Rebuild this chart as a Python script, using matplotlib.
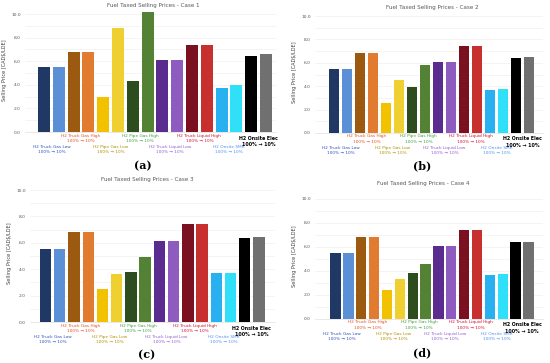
import numpy as np
import matplotlib.pyplot as plt

groups = ["H2 Truck Gas Low", "H2 Truck Gas High", "H2 Pipe Gas Low", "H2 Pipe Gas High",
          "H2 Truck Liquid Low", "H2 Truck Liquid High", "H2 Onsite SMR", "H2 Onsite Elec"]
sub_label = "100% \u2192 10%"

case1 = [5.5, 5.5, 6.8, 6.8, 3.0, 8.8, 4.3, 10.2, 6.1, 6.1, 7.4, 7.4, 3.7, 4.0, 6.4, 6.6]
case2 = [5.5, 5.5, 6.8, 6.8, 2.6, 4.5, 3.9, 5.8, 6.1, 6.1, 7.4, 7.4, 3.7, 3.8, 6.4, 6.5]
case3 = [5.5, 5.5, 6.8, 6.8, 2.5, 3.6, 3.8, 4.9, 6.1, 6.1, 7.4, 7.4, 3.7, 3.75, 6.4, 6.45]
case4 = [5.5, 5.5, 6.8, 6.8, 2.45, 3.3, 3.8, 4.6, 6.1, 6.1, 7.4, 7.4, 3.7, 3.75, 6.4, 6.45]
cases = [case1, case2, case3, case4]
titles = ["Fuel Taxed Selling Prices - Case 1", "Fuel Taxed Selling Prices - Case 2",
          "Fuel Taxed Selling Prices - Case 3", "Fuel Taxed Selling Prices - Case 4"]
letters = ["a", "b", "c", "d"]

bar_colors = ["#203864", "#5b8fd6", "#9c5a10", "#e07b30", "#f2c200", "#f0d030",
              "#2e4d1e", "#548235", "#5b2c8f", "#8e5cbf", "#7b1020", "#c83030",
              "#28b0f0", "#30e0f8", "#000000", "#707070"]
label_colors = ["#3050c0", "#e05020", "#b09000", "#40a040", "#9060d0", "#d01030", "#5090f0", "#000000"]

W, H = 550, 363
# pixel layout: axes left, axes right, first bar centre, last bar centre, y of 10.0, y of 0.0
boxes = [(25, 276, 44, 266, 14, 132), (315, 543, 334, 529, 16, 133),
         (30, 275, 45.5, 259, 190, 322), (315, 543, 335.5, 528.5, 199, 319)]
title_pos = [(153, 6), (432, 7), (147, 179), (423, 184)]
letter_pos = [(143, 166), (422, 166), (147, 355), (422, 353)]

fig = plt.figure(figsize=(5.5, 3.63), dpi=100)
x = np.arange(16)
for k in range(4):
    l, r, c0, c15, y10, y0 = boxes[k]
    ppu = (y0 - y10) / 10.0
    top = y10 - 0.4 * ppu
    step = (c15 - c0) / 15
    ax = fig.add_axes([l / W, 1 - y0 / H, (r - l) / W, (y0 - top) / H])
    ax.bar(x, cases[k], width=0.8, color=bar_colors, zorder=3)
    ax.set_xlim(-(c0 - l) / step, 15 + (r - c15) / step)
    ax.set_ylim(0, 10.4)
    ticks = np.arange(0, 10.1, 2.0)
    ax.set_yticks(ticks)
    ax.set_yticklabels([f"{v:.1f}" for v in ticks], fontsize=3.2, color="#595959")
    ax.set_yticks(np.arange(0, 10.1, 1.0), minor=True)
    ax.grid(axis="y", which="both", color="#ededed", linewidth=0.4, zorder=0)
    ax.tick_params(axis="y", which="both", length=0, pad=3)
    ax.set_xticks([])
    for s in ["top", "right", "left"]:
        ax.spines[s].set_visible(False)
    ax.spines["bottom"].set_color("#d9d9d9")
    ax.spines["bottom"].set_linewidth(0.4)
    ax.set_ylabel("Selling Price [CAD$/LDE]", fontsize=3.6, color="#404040", labelpad=3)
    for g in range(8):
        if g == 7:
            off = 3.5
        elif g % 2 == 1:
            off = 1.5
        else:
            off = 13
        ax.annotate(groups[g] + "\n" + sub_label, xy=(2 * g + 0.5, 0), xytext=(0, -off * 0.72),
                    textcoords="offset points", ha="center", va="top",
                    fontsize=3.4 if g == 7 else 3.1,
                    color=label_colors[g], fontweight="bold" if g == 7 else "normal",
                    linespacing=1.4, annotation_clip=False)
    tx, ty = title_pos[k]
    fig.text(tx / W, 1 - ty / H, titles[k], ha="center", va="center", fontsize=4.1, color="#595959")
    lx, ly = letter_pos[k]
    fig.text(lx / W, 1 - ly / H, "(" + letters[k] + ")", ha="center", va="center",
             fontsize=8, family="DejaVu Serif", fontweight="bold")

fig.savefig("out.png", dpi=100)
